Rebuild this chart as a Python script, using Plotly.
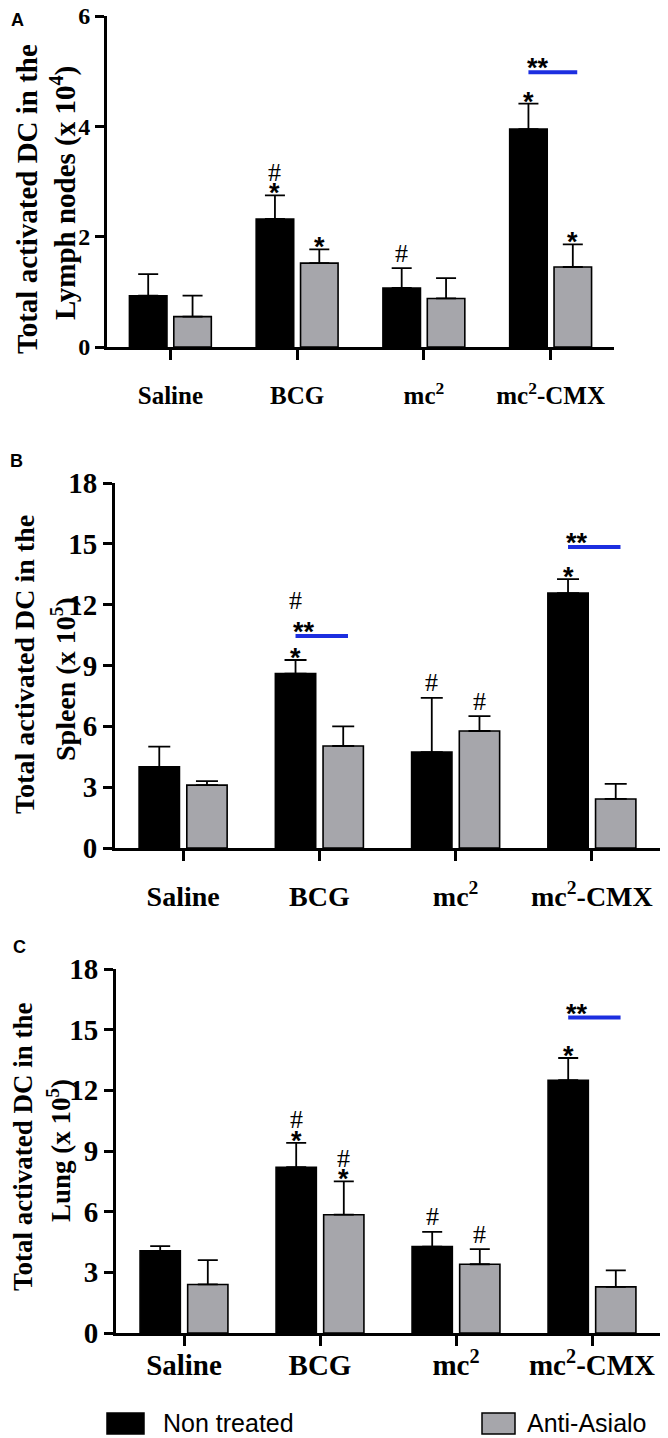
import plotly.graph_objects as go

# The page body adds an 8px margin; the figure is sized to fit the window.
PAGE_MARGIN = 8
W, H = 668 - PAGE_MARGIN, 1438 - PAGE_MARGIN

categories = ["Saline", "BCG", "mc2", "mc2-CMX"]
tick_labels = ["Saline", "BCG", "mc<sup>2</sup>", "mc<sup>2</sup>-CMX"]
series_names = ["Non treated", "Anti-Asialo"]

# Panel A: Lymph nodes (x 10^4)
lymph_nontreated = [0.93, 2.32, 1.07, 3.95]
lymph_nontreated_err = [0.39, 0.43, 0.36, 0.46]
lymph_antiasialo = [0.55, 1.52, 0.88, 1.45]
lymph_antiasialo_err = [0.38, 0.25, 0.37, 0.41]
lymph_nontreated_marks = ["", "*#", "#", "*"]
lymph_antiasialo_marks = ["", "*", "", "*"]
lymph_sig = [(3, 4.98)]
lymph_ticks = [0, 2, 4, 6]

# Panel B: Spleen (x 10^5)
spleen_nontreated = [4.0, 8.6, 4.73, 12.57]
spleen_nontreated_err = [1.0, 0.67, 2.67, 0.69]
spleen_antiasialo = [3.1, 5.03, 5.77, 2.42]
spleen_antiasialo_err = [0.2, 0.97, 0.73, 0.74]
spleen_nontreated_marks = ["", "*#", "#", "*"]
spleen_antiasialo_marks = ["", "", "#", ""]
spleen_sig = [(1, 10.45), (3, 14.84)]
spleen_ticks = [0, 3, 6, 9, 12, 15, 18]

# Panel C: Lung (x 10^5)
lung_nontreated = [4.06, 8.2, 4.27, 12.5]
lung_nontreated_err = [0.24, 1.2, 0.73, 1.1]
lung_antiasialo = [2.4, 5.85, 3.4, 2.28]
lung_antiasialo_err = [1.2, 1.65, 0.75, 0.82]
lung_nontreated_marks = ["", "*#", "#", "*"]
lung_antiasialo_marks = ["", "*#", "#", ""]
lung_sig = [(3, 15.6)]
lung_ticks = [0, 3, 6, 9, 12, 15, 18]

BLACK = "#000000"
GRAY = "#a6a6ab"
BLUE = "#1c2ee0"
SERIF = "Liberation Serif"
SANS = "Liberation Sans"

panels = [
    dict(key="", nt=lymph_nontreated, nte=lymph_nontreated_err, aa=lymph_antiasialo, aae=lymph_antiasialo_err,
         ntm=lymph_nontreated_marks, aam=lymph_antiasialo_marks, sig=lymph_sig, ticks=lymph_ticks,
         xpx=(107, 614), ypx=(16, 347), yrange=(0, 6),
         tickfont=24, catfont=25, standoff=14, capw=10,
         title1="Total activated DC in the", title2="Lymph nodes (x 10<sup>4</sup>)",
         t1x=27, t2x=63, t1y=199, t2y=193, tfont=29,
         letter="A", lx=17, ly=8, lanchor="top"),
    dict(key="2", nt=spleen_nontreated, nte=spleen_nontreated_err, aa=spleen_antiasialo, aae=spleen_antiasialo_err,
         ntm=spleen_nontreated_marks, aam=spleen_antiasialo_marks, sig=spleen_sig, ticks=spleen_ticks,
         xpx=(115, 660), ypx=(483, 848), yrange=(0, 18),
         tickfont=29, catfont=28, standoff=11, capw=11,
         title1="Total activated DC in the", title2="Spleen (x 10<sup>5</sup>)",
         t1x=24, t2x=63, t1y=665, t2y=679, tfont=28,
         letter="B", lx=16, ly=461, lanchor="middle"),
    dict(key="3", nt=lung_nontreated, nte=lung_nontreated_err, aa=lung_antiasialo, aae=lung_antiasialo_err,
         ntm=lung_nontreated_marks, aam=lung_antiasialo_marks, sig=lung_sig, ticks=lung_ticks,
         xpx=(116, 660), ypx=(969, 1333), yrange=(0, 18),
         tickfont=29, catfont=29, standoff=-6, capw=10,
         title1="Total activated DC in the", title2="Lung (x 10<sup>5</sup>)",
         t1x=23, t2x=59, t1y=1147, t2y=1151, tfont=27,
         letter="C", lx=19, ly=947, lanchor="middle"),
]

BAR_OFFSET = 0.175  # half the distance between paired bar centres (category units)

fig = go.Figure()
annotations = []
shapes = []

def py(p):
    return 1 - (p - PAGE_MARGIN) / H

def px(p):
    return (p - PAGE_MARGIN) / W

STAR_FONT = dict(family=SANS, size=27, color="black", weight="bold")
HASH_FONT = dict(family=SERIF, size=26, color="black")

for p in panels:
    k = p["key"]
    xa = "x" + k
    ya = "y" + k
    idx = list(range(len(categories)))
    for name, vals, errs, color in [(series_names[0], p["nt"], p["nte"], BLACK),
                                    (series_names[1], p["aa"], p["aae"], GRAY)]:
        fig.add_trace(go.Bar(
            x=idx, y=vals, name=name, showlegend=False,
            marker=dict(color=color, line=dict(color="black", width=1.6)),
            error_y=dict(type="data", symmetric=False, array=errs, arrayminus=[0] * len(errs),
                         color="black", thickness=1.8, width=p["capw"]),
            xaxis=xa, yaxis=ya,
        ))

    # significance lines
    sig_groups = {}
    for gi, yv in p["sig"]:
        sig_groups[gi] = yv
        shapes.append(dict(type="line", xref=xa, yref=ya, x0=gi - BAR_OFFSET, x1=gi + 0.21,
                           y0=yv, y1=yv, line=dict(color=BLUE, width=4)))
        annotations.append(dict(xref=xa, yref=ya, x=gi - BAR_OFFSET - 0.03, y=yv, text="**",
                                showarrow=False, xanchor="left", yanchor="middle", yshift=4,
                                font=STAR_FONT))

    # marks above bars
    for marks, vals, errs, off, is_black in [(p["ntm"], p["nt"], p["nte"], -BAR_OFFSET, True),
                                             (p["aam"], p["aa"], p["aae"], BAR_OFFSET, False)]:
        for gi, m in enumerate(marks):
            top = vals[gi] + errs[gi]
            shift = 0
            for j, ch in enumerate(m):
                base_y = top
                if j == 0:
                    s = 2 if ch == "*" else 15
                else:
                    s = shift + 21
                    if is_black and gi in sig_groups:
                        base_y = sig_groups[gi]
                        s = 36
                shift = s
                annotations.append(dict(
                    xref=xa, yref=ya, x=gi + off, y=base_y, text=ch, showarrow=False,
                    xanchor="center", yanchor="middle", yshift=s,
                    font=STAR_FONT if ch == "*" else HASH_FONT))

    x0, x1 = p["xpx"]
    yt, yb = p["ypx"]
    fig.update_layout(**{
        ("xaxis" + k): dict(
            domain=[px(x0), px(x1)], anchor=ya, range=[-0.5, 3.5], automargin=False,
            tickmode="array", tickvals=idx, ticktext=tick_labels,
            showline=True, linecolor="black", linewidth=3,
            ticks="outside", ticklen=10, tickwidth=3, tickcolor="black",
            ticklabelstandoff=p["standoff"], ticklabeloverflow="allow",
            tickfont=dict(family=SERIF, size=p["catfont"], color="black", weight="bold"),
            showgrid=False, zeroline=False, fixedrange=True,
        ),
        ("yaxis" + k): dict(
            domain=[py(yb), py(yt)], anchor=xa, range=list(p["yrange"]), automargin=False,
            tickmode="array", tickvals=p["ticks"], ticktext=[str(t) for t in p["ticks"]],
            showline=True, linecolor="black", linewidth=3,
            ticks="outside", ticklen=9, tickwidth=3, tickcolor="black",
            ticklabeloverflow="allow",
            tickfont=dict(family=SERIF, size=p["tickfont"], color="black", weight="bold"),
            showgrid=False, zeroline=False, fixedrange=True,
        ),
    })

    # axis titles (two lines)
    for txt, tx, ty in [(p["title1"], p["t1x"], p["t1y"]), (p["title2"], p["t2x"], p["t2y"])]:
        annotations.append(dict(xref="paper", yref="paper", x=px(tx), y=py(ty), text=txt,
                                textangle=-90, showarrow=False, xanchor="center", yanchor="middle",
                                font=dict(family=SERIF, size=p["tfont"], color="black", weight="bold")))
    # panel letter
    annotations.append(dict(xref="paper", yref="paper", x=px(p["lx"]), y=py(p["ly"]), text=p["letter"],
                            showarrow=False, xanchor="center", yanchor=p["lanchor"],
                            font=dict(family=SANS, size=18, color="black", weight="bold")))

# legend (drawn manually)
legend_items = [(series_names[0], BLACK, 107, 144, 161), (series_names[1], GRAY, 482, 515, 525)]
for name, color, sx0, sx1, tx in legend_items:
    shapes.append(dict(type="rect", xref="paper", yref="paper", x0=px(sx0), x1=px(sx1),
                       y0=py(1434), y1=py(1413), fillcolor=color, line=dict(color="black", width=1.5)))
    annotations.append(dict(xref="paper", yref="paper", x=px(tx), y=py(1423), text=name,
                            showarrow=False, xanchor="left", yanchor="middle",
                            font=dict(family=SANS, size=25, color="black")))

fig.update_layout(
    template="none",
    width=W, height=H,
    margin=dict(l=0, r=0, t=0, b=0, autoexpand=False),
    paper_bgcolor="white", plot_bgcolor="white",
    barmode="group", bargap=0.30, bargroupgap=0.154,
    annotations=annotations, shapes=shapes,
    showlegend=False,
)

fig.write_html("out.html")
